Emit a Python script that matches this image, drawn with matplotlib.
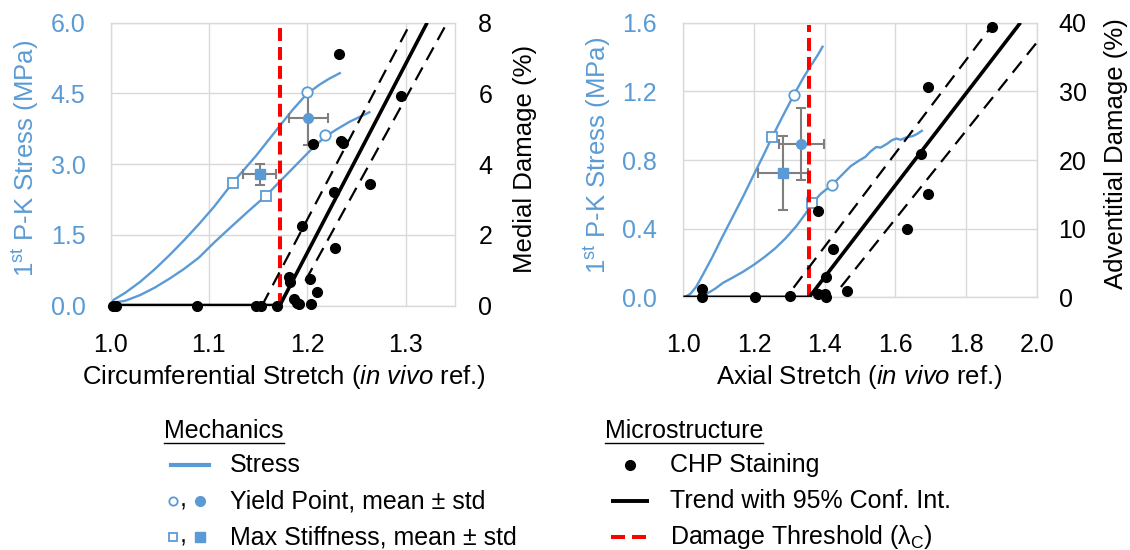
import matplotlib
matplotlib.use("Agg")
import matplotlib.pyplot as plt
from matplotlib.lines import Line2D

plt.rcParams["font.family"] = ["Liberation Sans", "DejaVu Sans"]
plt.rcParams["mathtext.fontset"] = "custom"
plt.rcParams["mathtext.rm"] = "Liberation Sans"
plt.rcParams["mathtext.it"] = "Liberation Sans:italic"
plt.rcParams["mathtext.bf"] = "Liberation Sans:bold"

BLUE = "#5B9BD5"
GRID = "#D9D9D9"
ERR = "#7F7F7F"
RED = "#FF0000"

# ---------------- Circumferential data ----------------
circ_stress_a_x = [1.000, 1.015, 1.030, 1.045, 1.060, 1.075, 1.090, 1.105, 1.124, 1.148,
                   1.170, 1.185, 1.199, 1.212, 1.222, 1.233]
circ_stress_a_y = [0.08, 0.27, 0.50, 0.77, 1.07, 1.39, 1.73, 2.09, 2.60, 3.18,
                   3.76, 4.15, 4.48, 4.68, 4.81, 4.93]
circ_stress_b_x = [1.000, 1.015, 1.030, 1.045, 1.060, 1.075, 1.090, 1.105, 1.120, 1.140,
                   1.158, 1.172, 1.188, 1.203, 1.218, 1.230, 1.243, 1.263]
circ_stress_b_y = [0.05, 0.10, 0.22, 0.38, 0.57, 0.78, 1.02, 1.33, 1.62, 2.00,
                   2.33, 2.63, 2.97, 3.29, 3.58, 3.74, 3.90, 4.10]
circ_yield_x = [1.1995, 1.2184]
circ_yield_y = [4.53, 3.61]
circ_stiff_x = [1.124, 1.1578]
circ_stiff_y = [2.60, 2.32]
circ_yield_mean = (1.2010, 3.97)
circ_yield_std = (0.020, 0.57)
circ_stiff_mean = (1.1516, 2.78)
circ_stiff_std = (0.017, 0.23)
circ_threshold = 1.172
circ_chp_x = [1.003, 1.006, 1.088, 1.148, 1.153, 1.169, 1.1812, 1.1826, 1.186, 1.189, 1.192,
              1.1947, 1.2031, 1.2034, 1.2061, 1.2099, 1.2266, 1.228, 1.2324, 1.234, 1.2364,
              1.2633, 1.2956]
circ_chp_y = [0.0, 0.0, 0.0, 0.0, 0.0, 0.0, 0.81, 0.67, 0.17, 0.06, 0.04,
              2.25, 0.74, 0.04, 4.56, 0.39, 3.22, 1.62, 7.11, 4.66, 4.61,
              3.45, 5.94]
circ_trend_x = [1.0, 1.172, 1.3217]
circ_trend_y = [0.0, 0.0, 8.0]
circ_ci_hi_x = [1.154, 1.305]
circ_ci_hi_y = [0.0, 8.0]
circ_ci_lo_x = [1.198, 1.342]
circ_ci_lo_y = [0.7, 8.0]

# ---------------- Axial data ----------------
axial_stress_a_x = [1.003, 1.020, 1.036, 1.055, 1.082, 1.110, 1.140, 1.170, 1.196, 1.225,
                    1.2505, 1.280, 1.3124, 1.340, 1.361, 1.380, 1.394]
axial_stress_a_y = [0.00, 0.02, 0.06, 0.13, 0.234, 0.35, 0.47, 0.59, 0.70, 0.82,
                    0.93, 1.05, 1.178, 1.28, 1.35, 1.41, 1.46]
axial_stress_b_x = [1.048, 1.070, 1.090, 1.113, 1.140, 1.170, 1.200, 1.230, 1.260, 1.290,
                    1.320, 1.345, 1.365, 1.390, 1.421, 1.445, 1.474, 1.500, 1.515, 1.530,
                    1.546, 1.558, 1.577, 1.590, 1.603, 1.615, 1.629, 1.650, 1.660, 1.675]
axial_stress_b_y = [0.000, 0.025, 0.050, 0.085, 0.115, 0.150, 0.190, 0.235, 0.285, 0.345,
                    0.415, 0.485, 0.548, 0.605, 0.655, 0.705, 0.765, 0.800, 0.818, 0.850,
                    0.876, 0.872, 0.895, 0.915, 0.925, 0.918, 0.930, 0.940, 0.950, 0.970]
axial_yield_x = [1.313, 1.421]
axial_yield_y = [1.180, 0.655]
axial_stiff_x = [1.251, 1.365]
axial_stiff_y = [0.932, 0.550]
axial_yield_mean = (1.334, 0.893)
axial_yield_std = (0.063, 0.21)
axial_stiff_mean = (1.282, 0.724)
axial_stiff_std = (0.070, 0.215)
axial_threshold = 1.356
axial_chp_x = [1.052, 1.052, 1.202, 1.302, 1.380, 1.381, 1.402, 1.403, 1.404, 1.423, 1.464,
               1.634, 1.672, 1.693, 1.693, 1.874]
axial_chp_y = [1.22, 0.04, 0.0, 0.25, 0.5, 12.6, 0.5, 3.02, 0.0, 7.06, 0.98,
               10.0, 20.9, 15.0, 30.6, 39.4]
axial_trend_x = [1.0, 1.356, 1.954]
axial_trend_y = [0.0, 0.0, 40.0]
axial_ci_hi_x = [1.312, 1.880]
axial_ci_hi_y = [1.4, 40.0]
axial_ci_lo_x = [1.446, 2.0]
axial_ci_lo_y = [1.5, 37.1]

W, H = 1130, 550
fig = plt.figure(figsize=(W / 100, H / 100), dpi=100)

TICK_FS = 18
LABEL_FS = 18.5
LEG_FS = 18


def panel(rect, xlim, xticks, xfmt, ylim, yticks, y2lim, y2ticks,
          sa_x, sa_y, sb_x, sb_y, yld_x, yld_y, stf_x, stf_y,
          yld_m, yld_s, stf_m, stf_s, thr, chp_x, chp_y,
          tr_x, tr_y, hi_x, hi_y, lo_x, lo_y,
          xlabel, y2label, xpad, ypad, y2pad, xl_pos, yl_pos, y2l_pos):
    ax = fig.add_axes(rect)
    ax.set_xlim(*xlim)
    ax.set_ylim(*ylim)
    ax.set_xticks(xticks)
    ax.set_xticklabels([xfmt.format(v) for v in xticks])
    ax.set_yticks(yticks)
    ax.set_yticklabels(["{:.1f}".format(v) for v in yticks])
    ax.grid(True, color=GRID, lw=1.0)
    ax.set_axisbelow(True)
    for s in ax.spines.values():
        s.set_color(GRID)
        s.set_linewidth(1.0)
    ax.tick_params(axis="both", length=0, labelsize=TICK_FS)
    ax.tick_params(axis="x", pad=xpad)
    ax.tick_params(axis="y", pad=ypad, labelcolor=BLUE)

    # stress curves
    ax.plot(sa_x, sa_y, color=BLUE, lw=1.7, zorder=2, solid_joinstyle="round")
    ax.plot(sb_x, sb_y, color=BLUE, lw=1.7, zorder=2, solid_joinstyle="round")
    # mean +/- std
    ax.errorbar([yld_m[0]], [yld_m[1]], xerr=[yld_s[0]], yerr=[yld_s[1]], fmt="o",
                color=BLUE, ms=7, ecolor=ERR, elinewidth=1.5, capsize=3.6,
                capthick=1.5, zorder=3)
    ax.errorbar([stf_m[0]], [stf_m[1]], xerr=[stf_s[0]], yerr=[stf_s[1]], fmt="s",
                color=BLUE, ms=7, ecolor=ERR, elinewidth=1.5, capsize=3.6,
                capthick=1.5, zorder=3)
    # individual yield / max stiffness points
    ax.plot(yld_x, yld_y, "o", ms=7.5, mfc="white", mec=BLUE, mew=1.3, zorder=4)
    ax.plot(stf_x, stf_y, "s", ms=7.5, mfc="white", mec=BLUE, mew=1.3, zorder=4)

    ax.set_xlabel(xlabel, fontsize=LABEL_FS, va="center")
    ax.xaxis.set_label_coords(*xl_pos)
    ax.set_ylabel(r"1$^{\mathrm{st}}$ P-K Stress (MPa)", fontsize=LABEL_FS,
                  color=BLUE, va="center")
    ax.yaxis.set_label_coords(*yl_pos)

    ax2 = ax.twinx()
    ax2.set_ylim(*y2lim)
    ax2.set_yticks(y2ticks)
    ax2.set_yticklabels(["{:d}".format(v) for v in y2ticks])
    for s in ax2.spines.values():
        s.set_visible(False)
    ax2.tick_params(axis="y", length=0, labelsize=TICK_FS, pad=y2pad)
    ax2.set_ylabel(y2label, fontsize=LABEL_FS, va="center")
    ax2.yaxis.set_label_coords(*y2l_pos)

    ax2.axvline(thr, ymin=0, ymax=0.99, color=RED, lw=2.9,
                ls=(0, (3.2, 1.5)), zorder=2)
    ax2.plot(hi_x, hi_y, color="black", lw=1.6, ls=(0, (6.5, 3.8)), zorder=3)
    ax2.plot(lo_x, lo_y, color="black", lw=1.6, ls=(0, (6.5, 3.8)), zorder=3)
    ax2.plot(tr_x, tr_y, color="black", lw=2.6, zorder=4, solid_capstyle="butt")
    ax2.plot(chp_x, chp_y, "o", color="black", ms=7, zorder=5, clip_on=False)
    return ax, ax2


panel([110.5 / W, 1 - 305.5 / H, 344.5 / W, 282.8 / H],
      (1.0, 1.35), [1.0, 1.1, 1.2, 1.3], "{:.1f}",
      (0, 6), [0, 1.5, 3.0, 4.5, 6.0], (0, 8), [0, 2, 4, 6, 8],
      circ_stress_a_x, circ_stress_a_y, circ_stress_b_x, circ_stress_b_y,
      circ_yield_x, circ_yield_y, circ_stiff_x, circ_stiff_y,
      circ_yield_mean, circ_yield_std, circ_stiff_mean, circ_stiff_std,
      circ_threshold, circ_chp_x, circ_chp_y,
      circ_trend_x, circ_trend_y, circ_ci_hi_x, circ_ci_hi_y, circ_ci_lo_x, circ_ci_lo_y,
      r"Circumferential Stretch ($\mathit{in\ vivo}$ ref.)", "Medial Damage (%)",
      20, 18, 16.8, (0.505, -0.252), (-0.247, 0.52), (1.203, 0.518))

panel([683.3 / W, 1 - 297.3 / H, 353.4 / W, 274.6 / H],
      (1.0, 2.0), [1.0, 1.2, 1.4, 1.6, 1.8, 2.0], "{:.1f}",
      (0, 1.6), [0, 0.4, 0.8, 1.2, 1.6], (0, 40), [0, 10, 20, 30, 40],
      axial_stress_a_x, axial_stress_a_y, axial_stress_b_x, axial_stress_b_y,
      axial_yield_x, axial_yield_y, axial_stiff_x, axial_stiff_y,
      axial_yield_mean, axial_yield_std, axial_stiff_mean, axial_stiff_std,
      axial_threshold, axial_chp_x, axial_chp_y,
      axial_trend_x, axial_trend_y, axial_ci_hi_x, axial_ci_hi_y, axial_ci_lo_x, axial_ci_lo_y,
      r"Axial Stretch ($\mathit{in\ vivo}$ ref.)", "Adventitial Damage (%)",
      26, 19, 15.7, (0.497, -0.289), (-0.242, 0.518), (1.224, 0.525))


# ---------------- Legend block ----------------
def fx(px):
    return px / W


def fy(py):
    return 1 - py / H


def seg(x0, x1, y, **kw):
    fig.add_artist(Line2D([fx(x0), fx(x1)], [fy(y), fy(y)],
                          transform=fig.transFigure, **kw))


def dot(x, y, **kw):
    fig.add_artist(Line2D([fx(x)], [fy(y)], transform=fig.transFigure, ls="none", **kw))


head_texts = []
for x, s in [(164, "Mechanics"), (605, "Microstructure")]:
    head_texts.append(fig.text(fx(x), fy(438), s, fontsize=LEG_FS, va="baseline", ha="left"))

rows = [465, 501, 537]
for y, s in zip(rows, ["Stress", "Yield Point, mean ± std", "Max Stiffness, mean ± std"]):
    fig.text(fx(230), fy(y), s, fontsize=LEG_FS, va="center", ha="left")
for y, s in zip(rows, ["CHP Staining", "Trend with 95% Conf. Int.",
                       r"Damage Threshold (λ$_{\mathrm{C}}$)"]):
    fig.text(fx(670), fy(y), s, fontsize=LEG_FS, va="center", ha="left")

seg(170.7, 209.3, rows[0], color=BLUE, lw=3)
dot(173.3, rows[1], marker="o", ms=6, mfc="white", mec=BLUE, mew=1.3)
dot(200, rows[1], marker="o", ms=7, color=BLUE)
dot(173.3, rows[2], marker="s", ms=6, mfc="white", mec=BLUE, mew=1.3)
dot(200, rows[2], marker="s", ms=7, color=BLUE)
for y in rows[1:]:
    fig.text(fx(183), fy(y + 5), ",", fontsize=LEG_FS, va="baseline", ha="center")

dot(630, rows[0], marker="o", ms=7, color="black")
seg(610.7, 649.3, rows[1], color="black", lw=2.8, solid_capstyle="butt")
seg(610.7, 625, rows[2], color=RED, lw=2.9, solid_capstyle="butt")
seg(631.7, 646, rows[2], color=RED, lw=2.9, solid_capstyle="butt")

fig.canvas.draw()
rend = fig.canvas.get_renderer()
for t in head_texts:
    bb = t.get_window_extent(rend)
    seg(bb.x0, bb.x1, 443, color="black", lw=1.0)

fig.savefig("out.png", dpi=100)
